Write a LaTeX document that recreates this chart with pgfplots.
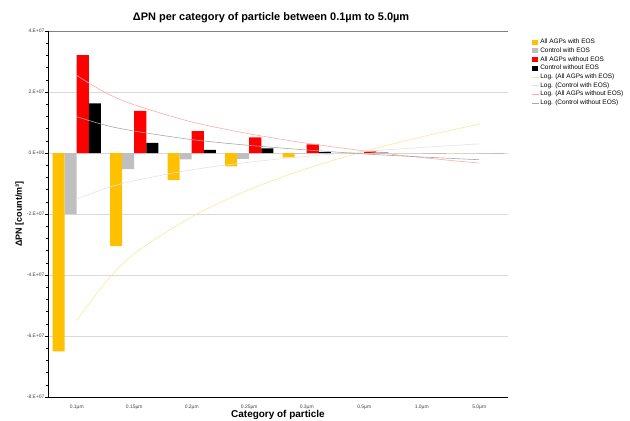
\documentclass[border=0pt]{standalone}
\usepackage{pgfplots}
\pgfplotsset{compat=1.18}
\usepackage{fontspec}
\setmainfont{Liberation Sans}
\definecolor{cY}{HTML}{FFC000}
\definecolor{cG}{HTML}{BFBFBF}
\definecolor{cR}{HTML}{FF0000}
\definecolor{cK}{HTML}{000000}
\definecolor{tY}{HTML}{FFE49A}
\definecolor{tG}{HTML}{E3E3E3}
\definecolor{tR}{HTML}{FFAAAA}
\definecolor{tK}{HTML}{A8A8A8}
\definecolor{gridc}{HTML}{D9D9D9}
\begin{document}
\begin{tikzpicture}
\useasboundingbox (0bp,0bp) rectangle (630bp,-421bp);
\begin{axis}[
  at={(48bp,-397bp)}, anchor=south west,
  scale only axis, width=460bp, height=366bp,
  xmin=-0.5, xmax=7.5, ymin=-8e7, ymax=4e7,
  axis x line=bottom, axis y line=left,
  axis line style={-, black, line width=0.6pt},
  xtick={0,1,2,3,4,5,6,7},
  xticklabels={0.1µm,0.15µm,0.2µm,0.25µm,0.3µm,0.5µm,1.0µm,5.0µm},
  x tick style={draw=none},
  ytick={-8e7,-6e7,-4e7,-2e7,0,2e7,4e7},
  yticklabels={-8.E+07,-6.E+07,-4.E+07,-2.E+07,0.E+00,2.E+07,4.E+07},
  scaled y ticks=false,
  minor y tick num=4,
  tick align=outside,
  y tick style={black, line width=0.4pt},
  major tick length=3bp, minor tick length=2bp,
  ymajorgrids, major grid style={gridc, line width=0.6pt},
  tick label style={font=\fontsize{5}{6}\selectfont, text=black!75},
  yticklabel style={xshift=3bp},
  xticklabel style={yshift=-1bp},
  ylabel={\textbf{ΔPN [count/m³]}},
  ylabel style={font=\fontsize{9}{10}\selectfont, at={(axis description cs:-0.045,0.5)}, anchor=south},
  xlabel={\textbf{Category of particle}},
  xlabel style={font=\fontsize{10}{12}\selectfont, at={(axis description cs:0.5,-0.037)}, anchor=north, inner sep=0pt},
  title={\textbf{ΔPN per category of particle between 0.1µm to 5.0µm}},
  title style={font=\fontsize{11}{13}\selectfont, at={(axis description cs:0.485,1.0)}, anchor=south, yshift=-1bp},
  legend style={at={(1.052,0.982)}, anchor=north west, draw=none, fill=none,
    font=\fontsize{6.5}{7}\selectfont, inner sep=0pt, row sep=0pt,
    nodes={inner xsep=0.6bp, inner ysep=1.25bp}},
  legend cell align=left,
]
\addplot[ybar, bar width=0.209, bar shift=-0.3135, fill=cY, draw=none,
  legend image code/.code={\fill[cY] (0bp,-2.5bp) rectangle (6bp,2.5bp);}]
  coordinates {(0,-6.5e7) (1,-3.05e7) (2,-0.89e7) (3,-0.44e7) (4,-0.14e7) (5,0) (6,0) (7,0)};
\addlegendentry{All AGPs with EOS}
\addplot[ybar, bar width=0.209, bar shift=-0.1045, fill=cG, draw=none,
  legend image code/.code={\fill[cG] (0bp,-2.5bp) rectangle (6bp,2.5bp);}]
  coordinates {(0,-2.0e7) (1,-0.53e7) (2,-0.21e7) (3,-0.19e7) (4,-0.02e7) (5,0) (6,0) (7,0)};
\addlegendentry{Control with EOS}
\addplot[ybar, bar width=0.209, bar shift=0.1045, fill=cR, draw=none,
  legend image code/.code={\fill[cR] (0bp,-2.5bp) rectangle (6bp,2.5bp);}]
  coordinates {(0,3.21e7) (1,1.38e7) (2,0.72e7) (3,0.51e7) (4,0.28e7) (5,0.05e7) (6,0) (7,0)};
\addlegendentry{All AGPs without EOS}
\addplot[ybar, bar width=0.209, bar shift=0.3135, fill=cK, draw=none,
  legend image code/.code={\fill[cK] (0bp,-2.5bp) rectangle (6bp,2.5bp);}]
  coordinates {(0,1.63e7) (1,0.33e7) (2,0.1e7) (3,0.15e7) (4,0.03e7) (5,0.01e7) (6,0) (7,0)};
\addlegendentry{Control without EOS}
\addplot[smooth, tY, line width=0.6pt, no marks,
  legend image code/.code={\draw[tY, line width=0.6pt] (0bp,0bp) -- (7bp,0bp);}]
  coordinates {(0,-5.5e7) (0.5,-4.24e7) (1,-3.3e7) (2,-2.09e7) (3,-1.2e7) (4,-0.51e7) (5,0.05e7) (6,0.53e7) (7,0.95e7)};
\addlegendentry{Log. (All AGPs with EOS)}
\addplot[smooth, tG, line width=0.6pt, no marks,
  legend image code/.code={\draw[tG, line width=0.6pt] (0bp,0bp) -- (7bp,0bp);}]
  coordinates {(0,-1.51e7) (0.5,-1.16e7) (1,-0.91e7) (2,-0.55e7) (3,-0.3e7) (4,-0.11e7) (5,0.05e7) (6,0.18e7) (7,0.3e7)};
\addlegendentry{Log. (Control with EOS)}
\addplot[smooth, tR, line width=0.6pt, no marks,
  legend image code/.code={\draw[tR, line width=0.6pt] (0bp,0bp) -- (7bp,0bp);}]
  coordinates {(0,2.54e7) (0.5,1.98e7) (1,1.58e7) (2,1.02e7) (3,0.63e7) (4,0.32e7) (5,0.07e7) (6,-0.15e7) (7,-0.33e7)};
\addlegendentry{Log. (All AGPs without EOS)}
\addplot[smooth, tK, line width=0.6pt, no marks,
  legend image code/.code={\draw[tK, line width=0.6pt] (0bp,0bp) -- (7bp,0bp);}]
  coordinates {(0,1.19e7) (0.5,0.91e7) (1,0.72e7) (2,0.44e7) (3,0.25e7) (4,0.1e7) (5,-0.03e7) (6,-0.13e7) (7,-0.22e7)};
\addlegendentry{Log. (Control without EOS)}
\draw[gray, line width=0.8pt] (rel axis cs:0,1) -- (rel axis cs:1,1) -- (rel axis cs:1,0);
\draw[black, line width=0.6pt] (rel axis cs:0,0) -- (rel axis cs:0,1);
\end{axis}
\end{tikzpicture}
\end{document}
